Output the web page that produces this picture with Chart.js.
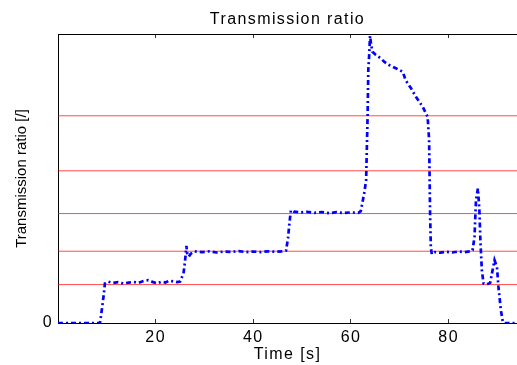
<!DOCTYPE html>
<html><head><meta charset="utf-8">
<script src="https://cdn.jsdelivr.net/npm/chart.js@4/dist/chart.umd.min.js"></script>
<style>html,body{margin:0;padding:0;background:#fff;overflow:hidden}#wrap{width:517px;height:365px;position:relative;overflow:hidden}</style>
</head><body><div id="wrap"><canvas id="c" width="517" height="365"></canvas></div>
<script>
// Time axis of the measured trace [s]
const timeS = [0, 8.6, 9.05, 9.4, 9.6, 10.2, 11.2, 12.3, 13.4, 14.5, 15.5, 16.5, 17.5, 18.5, 19.5, 20.3, 21.2, 22.0, 22.8, 23.6, 24.4, 25.0,
  25.7, 26.0, 26.3, 26.5, 26.8, 27.2, 28.0, 29.5, 31.0, 32.5, 34.0, 35.5, 37.0, 38.5, 40.0, 41.5, 43.0, 44.5, 46.0, 46.7,
  47.1, 47.4, 47.7, 48.3, 49.5, 51, 52.5, 54, 55.5, 57, 58.5, 60, 61.5, 62.0,
  62.7, 63.1, 63.4, 63.55, 63.75, 63.9, 64.1, 64.4, 65.1, 66.1, 66.8, 67.8, 69.2, 70.6, 71.2, 72.3, 73.3, 74.7, 75.7,
  76.0, 76.2, 76.35, 76.55, 77.2, 78.3, 79.5, 80.7, 82, 83.3, 84.4, 84.9,
  85.3, 85.6, 86.0, 86.3, 86.5, 86.8, 87.15, 87.8, 88.5, 89.0, 89.4, 89.9, 90.2, 90.7, 91.1, 91.5, 94];
// Measured transmission ratio [/]
const ratio = [0, 0, 0.083, 0.153, 0.205, 0.215, 0.208, 0.212, 0.205, 0.21, 0.213, 0.208, 0.218, 0.222, 0.212, 0.206, 0.214, 0.21, 0.22, 0.216, 0.212, 0.215,
  0.257, 0.317, 0.40, 0.352, 0.345, 0.36, 0.372, 0.368, 0.372, 0.366, 0.371, 0.369, 0.373, 0.368, 0.371, 0.368, 0.372, 0.37, 0.372, 0.376,
  0.44, 0.52, 0.585, 0.578, 0.574, 0.577, 0.572, 0.576, 0.57, 0.575, 0.571, 0.574, 0.572, 0.58,
  0.672, 0.741, 1.07, 1.313, 1.40, 1.49, 1.45, 1.408, 1.391, 1.374, 1.356, 1.339, 1.322, 1.304, 1.26, 1.218, 1.174, 1.122, 1.07,
  0.95, 0.57, 0.395, 0.357, 0.368, 0.365, 0.37, 0.366, 0.371, 0.368, 0.372, 0.378,
  0.447, 0.637, 0.698, 0.585, 0.43, 0.274, 0.205, 0.2, 0.208, 0.274, 0.326, 0.29, 0.187, 0.066, 0.005, 0, 0];
// Fixed gear ratios (red reference lines)
const gearRatios = [0.1995, 0.3725, 0.568, 0.79, 1.0755];
const xTickValues = [20, 40, 60, 80];
const yTickValues = [0];
const X_MIN = 0, X_MAX = 94, Y_MIN = 0, Y_MAX = 1.5;

const FONT = 'Liberation Sans, Arial, Helvetica, sans-serif';

const traceData = timeS.map((t, i) => ({x: t, y: ratio[i]}));
const datasets = [{
  label: 'Transmission ratio',
  data: traceData,
  borderColor: '#0000ff',
  borderWidth: 2.7,
  borderDash: [5, 3, 2, 3],
  pointRadius: 0,
  tension: 0,
  fill: false,
  order: 0
}];
gearRatios.forEach((g, i) => datasets.push({
  label: 'Gear ' + (i + 1),
  data: [{x: X_MIN, y: g}, {x: X_MAX, y: g}],
  borderColor: 'rgba(255,0,0,0.7)',
  borderWidth: 1,
  pointRadius: 0,
  fill: false,
  order: 1
}));

const spacingPlugin = {
  id: 'spacing',
  afterUpdate(chart) {
    const y = chart.scales.y;
    if (y && !y._patched) {
      const orig = y.drawTitle;
      y.drawTitle = function () {
        const c = this.ctx; const prev = c.letterSpacing;
        c.letterSpacing = '0px'; orig.apply(this, arguments); c.letterSpacing = prev;
      };
      y._patched = true;
    }
  },
  beforeDraw(chart) { chart.ctx.letterSpacing = '1.4px'; }
};

const setXTicks = s => { s.ticks = xTickValues.map(v => ({value: v})); };

new Chart(document.getElementById('c'), {
  type: 'line',
  data: {datasets},
  plugins: [spacingPlugin],
  options: {
    responsive: false,
    devicePixelRatio: 1,
    animation: false,
    layout: {padding: 0},
    plugins: {
      legend: {display: false},
      tooltip: {enabled: false},
      title: {
        display: true, text: 'Transmission ratio', color: '#000', fullSize: false,
        font: {family: FONT, size: 16, weight: 'normal'},
        padding: {top: 10, bottom: 4.8}
      }
    },
    scales: {
      x: {
        type: 'linear', position: 'bottom', min: X_MIN, max: X_MAX,
        afterBuildTicks: setXTicks,
        afterFit: s => { s.height = 42; },
        ticks: {color: '#000', font: {family: FONT, size: 16}, padding: 9, maxRotation: 0, autoSkip: false},
        grid: {drawOnChartArea: false, drawTicks: true, tickLength: -4, color: '#333', lineWidth: 1},
        border: {display: true, color: '#000', width: 1},
        title: {display: true, text: 'Time [s]', color: '#000', font: {family: FONT, size: 16}, padding: {top: 0, bottom: 1}}
      },
      x2: {
        type: 'linear', position: 'top', min: X_MIN, max: X_MAX,
        afterBuildTicks: setXTicks,
        afterFit: s => { s.height = 0; },
        ticks: {display: false},
        grid: {drawOnChartArea: false, drawTicks: true, tickLength: -4, color: '#333', lineWidth: 1},
        border: {display: true, color: '#000', width: 1}
      },
      y: {
        type: 'linear', position: 'left', min: Y_MIN, max: Y_MAX,
        afterBuildTicks: s => { s.ticks = yTickValues.map(v => ({value: v})); },
        afterFit: s => { s.width = 58; },
        ticks: {color: '#000', font: {family: FONT, size: 16}, padding: 5},
        grid: {display: false, drawTicks: false},
        border: {display: true, color: '#000', width: 1},
        title: {display: true, text: 'Transmission ratio [/]', color: '#000', font: {family: FONT, size: 15}, padding: {top: 12.7, bottom: 0}}
      }
    }
  }
});
</script>
</body></html>
